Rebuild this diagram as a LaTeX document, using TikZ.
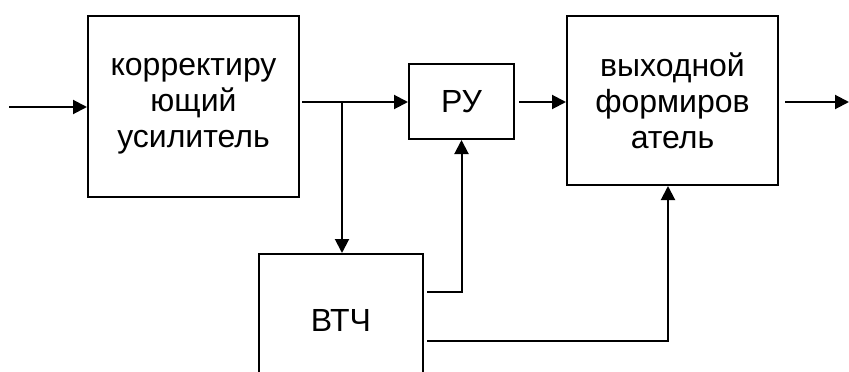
\documentclass[tikz,border=0pt]{standalone}
\usepackage{fontspec}
\setmainfont{Liberation Sans}
\usetikzlibrary{arrows.meta}
\begin{document}
\begin{tikzpicture}[x=1pt,y=-1pt,
  blk/.style={draw,line width=2pt,inner sep=0pt,align=center,
    font=\fontsize{32}{36}\selectfont},
  conn/.style={line width=2pt},
  arr/.style={conn,-{Triangle[length=14pt,width=14pt]}}]
\useasboundingbox (0,0) rectangle (849,372);
\clip (0,0) rectangle (849,372);
\node[blk,minimum width=211pt,minimum height=181pt] (amp) at (193.5,106.5)
  {корректиру\\ющий\\усилитель};
\node[blk,minimum width=105pt,minimum height=75pt] (ru) at (461.5,101.5) {РУ};
\node[blk,minimum width=211pt,minimum height=169pt] (out) at (672.5,100.5)
  {выходной\\формиров\\атель};
\node[blk,minimum width=164pt,minimum height=132pt] (vtc) at (341,320) {ВТЧ};
\coordinate (in) at (9,107);
\coordinate (fin) at (849,102);
\coordinate (br) at (342,102);
\coordinate (c1) at (0,292);
\coordinate (c2) at (0,341);
\draw[arr] (in) -- (in -| amp.west);
\draw[arr,shorten <=2pt] (amp.east |- br) -- (ru.west |- br);
\draw[arr] (br) -- (vtc.north -| br);
\draw[arr,shorten <=4pt] (ru.east |- br) -- (out.west |- br);
\draw[arr,shorten <=6pt] (out.east |- br) -- (fin);
\draw[arr,shorten <=3pt] (vtc.east |- c1) -| (ru.south);
\draw[arr,shorten <=3pt] (vtc.east |- c2) -| ([xshift=-4.5pt]out.south);
\end{tikzpicture}
\end{document}
